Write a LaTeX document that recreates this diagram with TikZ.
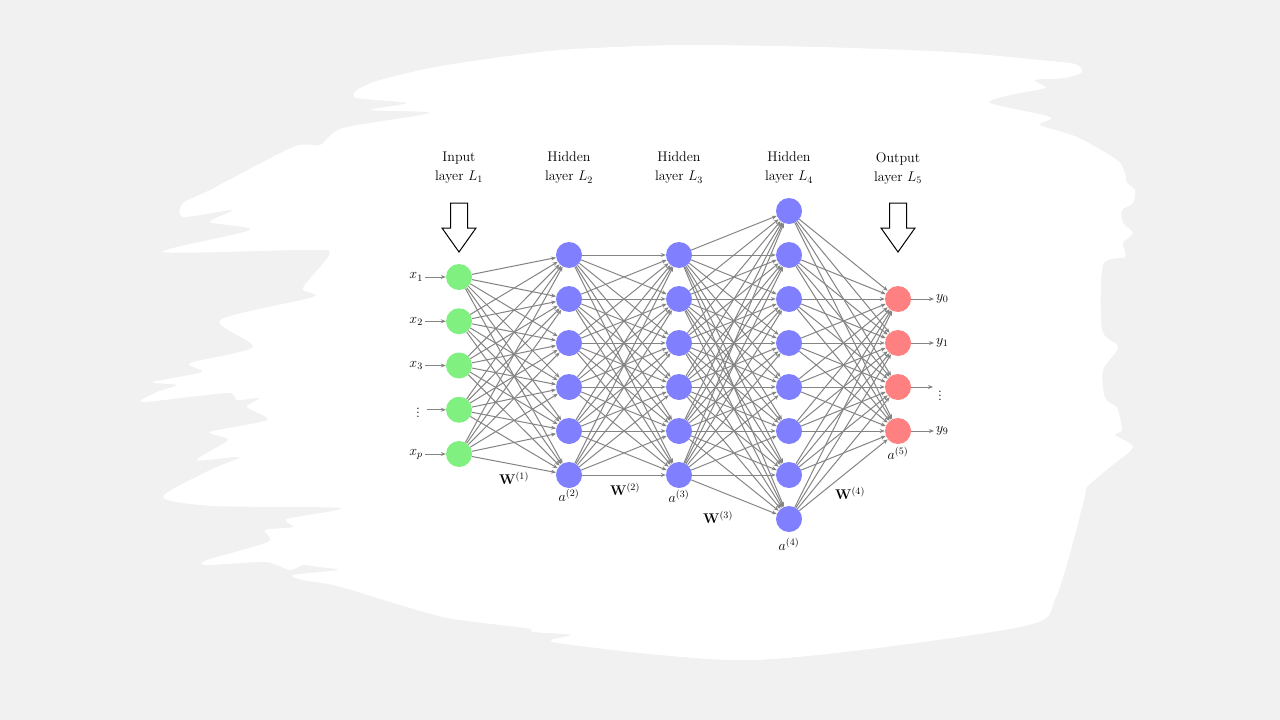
\RequirePackage{fix-cm}
\documentclass[tikz,border=0pt]{standalone}
\usetikzlibrary{arrows.meta}
\definecolor{bggray}{RGB}{241,241,241}
\definecolor{edgegray}{RGB}{132,132,132}
\definecolor{ingreen}{RGB}{128,240,128}
\definecolor{hidblue}{RGB}{128,128,255}
\definecolor{outred}{RGB}{255,128,128}
\tikzset{
  neuron/.style={circle, minimum size=26pt, inner sep=0pt, draw=none},
  inneuron/.style={neuron, fill=ingreen},
  hidneuron/.style={neuron, fill=hidblue},
  outneuron/.style={neuron, fill=outred},
  conn/.style={draw=edgegray, line width=1pt, -{Stealth[length=5pt,width=4pt]}},
  iolink/.style={draw=edgegray, line width=1pt, -{Stealth[length=5pt,width=4pt]}},
  txt/.style={font=\fontsize{14}{19}\selectfont, text=black, inner sep=2pt},
  layertxt/.style={txt, align=center},
  hollowarrow/.style={draw=black, line width=1pt, fill=white, line join=miter},
}
\begin{document}
\begin{tikzpicture}[x=1pt,y=-1pt]
\useasboundingbox (0,0) rectangle (1280,720);
\fill[bggray] (0,0) rectangle (1280,720);
% white brush-stroke backdrop
\fill[white] plot[smooth cycle, tension=0.45] coordinates {
 (357,90) (380,80) (430,68) (480,60) (560,50) (680,45) (820,47) (950,52)
 (1040,60) (1075,64) (1082,72) (1065,78) (1035,80) (1045,88) (1010,95)
 (990,103) (1050,117) (1040,125) (1077,137) (1117,160) (1125,173) (1127,183)
 (1135,190) (1133,203) (1122,210) (1123,223) (1133,233) (1123,243) (1125,257)
 (1103,265) (1102,330) (1118,347) (1103,370) (1105,398) (1117,408) (1122,430)
 (1115,435) (1133,447) (1110,467) (1087,487) (1084,500) (1056,597) (1020,627)
 (756,660) (558,643) (571,635) (533,632) (526,628) (443,617) (341,587)
 (303,580) (293,575) (338,570) (319,567) (303,565) (290,570) (265,562)
 (207,565) (207,560) (268,542) (265,530) (293,527) (287,519) (341,508)
 (214,506) (163,497) (210,470) (240,457) (197,460) (228,440) (210,432)
 (267,420) (247,407) (260,398) (237,400) (227,393) (143,402) (157,392)
 (177,385) (153,382) (202,372) (190,363) (253,347) (220,320) (313,297)
 (303,288) (330,253) (303,250) (163,252) (250,230) (210,222) (233,210)
 (183,217) (183,203) (210,190) (293,147) (320,145) (343,128) (430,113)
 (370,110) (407,103) (357,98)};

% layer titles
\node[layertxt] (t1) at (459,168) {Input\\layer $L_1$};
\node[layertxt] (t2) at (569,168) {Hidden\\layer $L_2$};
\node[layertxt] (t3) at (679,168) {Hidden\\layer $L_3$};
\node[layertxt] (t4) at (789,168) {Hidden\\layer $L_4$};
\node[layertxt] (t5) at (898,168) {Output\\layer $L_5$};

% hollow arrows
\foreach \cx in {459,898}{
  \draw[hollowarrow] (\cx-8.5,203) -- (\cx+8.5,203) -- (\cx+8.5,228) -- (\cx+17,228)
    -- (\cx,252) -- (\cx-17,228) -- (\cx-8.5,228) -- cycle;
}

% neurons
\foreach \i in {1,...,5} \node[inneuron] (I-\i) at (459,{277+44.25*(\i-1)}) {};
\foreach \i in {1,...,6} \node[hidneuron] (A-\i) at (569,{255+44*(\i-1)}) {};
\foreach \i in {1,...,6} \node[hidneuron] (B-\i) at (679,{255+44*(\i-1)}) {};
\foreach \i in {1,...,8} \node[hidneuron] (C-\i) at (789,{211+44*(\i-1)}) {};
\foreach \i in {1,...,4} \node[outneuron] (O-\i) at (898,{299+44*(\i-1)}) {};

% connections
\foreach \s in {1,...,5} \foreach \t in {1,...,6} \draw[conn] (I-\s) -- (A-\t);
\foreach \s in {1,...,6} \foreach \t in {1,...,6} \draw[conn] (A-\s) -- (B-\t);
\foreach \s in {1,...,6} \foreach \t in {1,...,8} \draw[conn] (B-\s) -- (C-\t);
\foreach \s in {1,...,8} \foreach \t in {1,...,4} \draw[conn] (C-\s) -- (O-\t);

% input labels
\foreach \i/\lab in {1/{$x_1$},2/{$x_2$},3/{$x_3$},5/{$x_p$}}{
  \node[txt, anchor=east] (X-\i) at (425,{277+44.25*(\i-1)}) {\lab};
  \draw[iolink] (X-\i) -- (I-\i);
}
\node[txt, inner sep=0pt] (X-4) at (418,409.75) {$\vdots$};
\coordinate (xv) at (427,409.75);
\draw[iolink] (xv) -- (I-4);
% output labels
\foreach \i/\lab in {1/{$y_0$},2/{$y_1$},4/{$y_9$}}{
  \node[txt, anchor=west] (Y-\i) at (934,{299+44*(\i-1)}) {\lab};
  \draw[iolink] (O-\i) -- (Y-\i);
}
\node[txt, inner sep=0pt] (Y-3) at (940,393) {$\vdots$};
\coordinate (yv) at (933,387);
\draw[iolink] (O-3) -- (yv);

% weight and activation labels
\node[txt] (w1) at (514,478) {$\mathbf{W}^{(1)}$};
\node[txt] (w2) at (625,489) {$\mathbf{W}^{(2)}$};
\node[txt] (w3) at (718,517) {$\mathbf{W}^{(3)}$};
\node[txt] (w4) at (850,493) {$\mathbf{W}^{(4)}$};
\node[txt] (a2) at (569,495) {$a^{(2)}$};
\node[txt] (a3) at (679,496) {$a^{(3)}$};
\node[txt] (a4) at (789,544) {$a^{(4)}$};
\node[txt] (a5) at (898,453) {$a^{(5)}$};
\end{tikzpicture}
\end{document}
